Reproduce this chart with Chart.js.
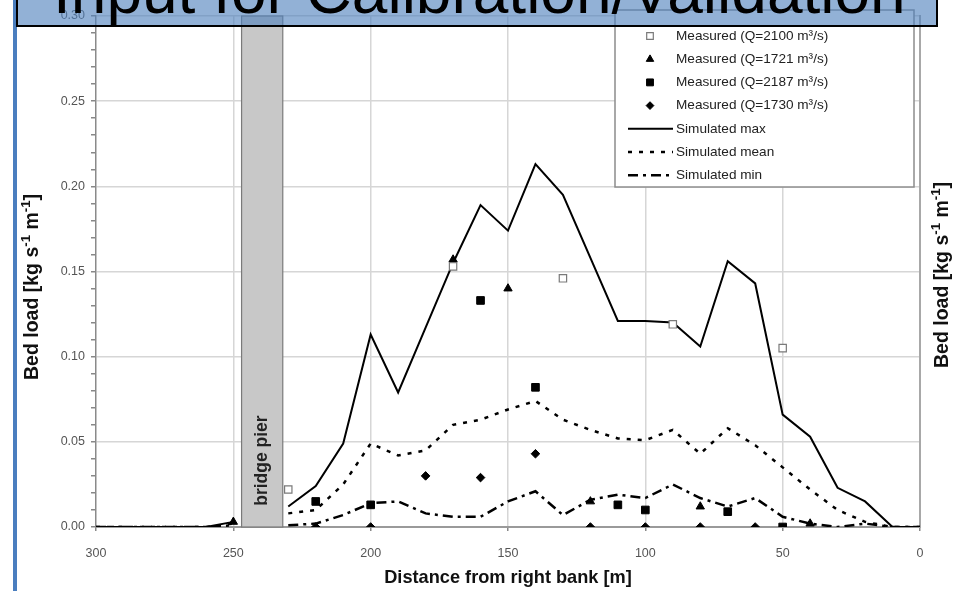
<!DOCTYPE html>
<html>
<head>
<meta charset="utf-8">
<script src="https://cdn.jsdelivr.net/npm/chart.js@4.4.1/dist/chart.umd.min.js"></script>
<style>
  html, body { margin: 0; padding: 0; background: #fff; }
  #wrap { position: relative; width: 963px; height: 591px; }
</style>
</head>
<body>
<div id="wrap"><canvas id="bedload-chart" width="963" height="591"></canvas></div>
<script>
// simulated profiles, every 10 m from the right bank (null = bridge pier)
const distances = [300, 290, 280, 270, 260, 250, 240, 230, 220, 210, 200, 190, 180, 170, 160, 150, 140, 130, 120, 110, 100, 90, 80, 70, 60, 50, 40, 30, 20, 10, 0];
const simMax  = [0, 0, 0, 0, 0, 0.003, null, 0.012, 0.024, 0.049, 0.113, 0.079, 0.117, 0.155, 0.189, 0.174, 0.213, 0.195, 0.158, 0.121, 0.121, 0.120, 0.106, 0.156, 0.143, 0.066, 0.053, 0.023, 0.015, 0, 0];
const simMean = [0, 0, 0, 0, 0, 0.002, null, 0.008, 0.010, 0.025, 0.049, 0.042, 0.045, 0.060, 0.063, 0.069, 0.074, 0.063, 0.057, 0.052, 0.051, 0.057, 0.043, 0.058, 0.048, 0.035, 0.022, 0.010, 0.003, 0, 0];
const simMin  = [0, 0, 0, 0, 0, 0.001, null, 0.001, 0.002, 0.007, 0.014, 0.015, 0.008, 0.006, 0.006, 0.015, 0.021, 0.007, 0.016, 0.019, 0.017, 0.025, 0.017, 0.012, 0.017, 0.006, 0.002, 0.000, 0.002, 0, 0];

// measured samples
const q2100X = [230, 170, 130, 90, 50];
const q2100Y = [0.022, 0.153, 0.146, 0.119, 0.105];
const q1721X = [250, 170, 150, 120, 80, 40];
const q1721Y = [0.003, 0.157, 0.140, 0.015, 0.012, 0.002];
const q2187X = [220, 200, 160, 140, 110, 100, 70, 50];
const q2187Y = [0.015, 0.013, 0.133, 0.082, 0.013, 0.010, 0.009, 0.000];
const q1730X = [220, 200, 180, 160, 140, 120, 100, 80, 60];
const q1730Y = [0, 0, 0.030, 0.029, 0.043, 0, 0, 0, 0];

const pierFrom = 247;
const pierTo = 232;
const xTicks = [300, 250, 200, 150, 100, 50, 0];
const yTicks = [0.00, 0.05, 0.10, 0.15, 0.20, 0.25, 0.30];

const slideTitle = 'Input for Calibration/Validation';
const FONT = "'Liberation Sans', Arial, sans-serif";

const lineData = ys => distances.map((d, i) => ({ x: d, y: ys[i] }));
const pointData = (xs, ys) => xs.map((d, i) => ({ x: d, y: ys[i] }));

function isMajorY(v) {
    return Math.abs(v * 100 - Math.round(v * 20) * 5) < 1e-6;
}

// superscript text helper: parts = [[text, isSup], ...]
function drawRichText(ctx, parts, cx, cy, size, rotate) {
    ctx.save();
    ctx.translate(cx, cy);
    if (rotate) ctx.rotate(-Math.PI / 2);
    ctx.textBaseline = 'middle';
    ctx.textAlign = 'left';
    let w = 0;
    parts.forEach(([t, sup]) => {
        ctx.font = 'bold ' + (sup ? size * 0.68 : size) + 'px ' + FONT;
        w += ctx.measureText(t).width;
    });
    let x = -w / 2;
    parts.forEach(([t, sup]) => {
        ctx.font = 'bold ' + (sup ? size * 0.68 : size) + 'px ' + FONT;
        ctx.fillText(t, x, sup ? -size * 0.36 : 0);
        x += ctx.measureText(t).width;
    });
    ctx.restore();
}

const yTitle = [['Bed load [kg s', false], ['-1', true], [' m', false], ['-1', true], [']', false]];

const background = {
    id: 'background',
    beforeDraw(chart) {
        const ctx = chart.ctx;
        ctx.save();
        ctx.fillStyle = '#fff';
        ctx.fillRect(0, 0, chart.width, chart.height);
        ctx.restore();
    }
};

const pierBox = {
    id: 'pierBox',
    beforeDatasetsDraw(chart) {
        const { ctx, chartArea } = chart;
        const xs = chart.scales.x;
        const ys = chart.scales.y;
        const x1 = xs.getPixelForValue(pierFrom);
        const x2 = xs.getPixelForValue(pierTo);
        ctx.save();
        ctx.fillStyle = '#c8c8c8';
        ctx.strokeStyle = '#7a7a7a';
        ctx.lineWidth = 1.2;
        ctx.fillRect(x1, chartArea.top, x2 - x1, chartArea.bottom - chartArea.top);
        ctx.strokeRect(x1, chartArea.top, x2 - x1, chartArea.bottom - chartArea.top);
        ctx.translate((x1 + x2) / 2, ys.getPixelForValue(0.039));
        ctx.rotate(-Math.PI / 2);
        ctx.fillStyle = '#222';
        ctx.font = 'bold 17.5px ' + FONT;
        ctx.textAlign = 'center';
        ctx.textBaseline = 'middle';
        ctx.fillText('bridge pier', 0, 0);
        ctx.restore();
    }
};

const boxLegend = {
    id: 'boxLegend',
    afterDatasetsDraw(chart) {
        const ctx = chart.ctx;
        const left = 615, right = 914, top = 10, bottom = 187;
        ctx.save();
        ctx.fillStyle = '#fff';
        ctx.fillRect(left, top, right - left, bottom - top);
        ctx.strokeStyle = '#8c8c8c';
        ctx.lineWidth = 1.5;
        ctx.strokeRect(left, top, right - left, bottom - top);
        chart.data.datasets.forEach((ds, i) => {
            const y = 36 + i * 23.2;
            if (ds.showLine === false) {
                ctx.fillStyle = ds.backgroundColor;
                ctx.strokeStyle = ds.borderColor;
                ctx.lineWidth = ds.borderWidth || 1;
                ctx.setLineDash([]);
                Chart.helpers.drawPoint(ctx, {
                    pointStyle: ds.pointStyle, radius: ds.pointRadius * 0.9,
                    rotation: 0, borderWidth: ds.borderWidth || 1
                }, 650, y);
            } else {
                ctx.strokeStyle = ds.borderColor;
                ctx.lineWidth = ds.borderWidth;
                ctx.setLineDash(ds.borderDash || []);
                ctx.beginPath();
                ctx.moveTo(628, y);
                ctx.lineTo(673, y);
                ctx.stroke();
                ctx.setLineDash([]);
            }
            ctx.fillStyle = '#222';
            ctx.font = '13.6px ' + FONT;
            ctx.textBaseline = 'middle';
            ctx.textAlign = 'left';
            ctx.fillText(ds.label, 676, y);
        });
        ctx.restore();
    }
};

const slideDecor = {
    id: 'slideDecor',
    afterDraw(chart) {
        const ctx = chart.ctx;
        const { chartArea } = chart;
        ctx.save();
        ctx.fillStyle = '#111';
        drawRichText(ctx, yTitle, 33, 287, 19.5, true);
        drawRichText(ctx, yTitle, 943, 275, 19.5, true);
        ctx.font = 'bold 18.2px ' + FONT;
        ctx.textAlign = 'center';
        ctx.textBaseline = 'middle';
        ctx.fillText('Distance from right bank [m]', (chartArea.left + chartArea.right) / 2, 578);

        // slide side rule
        ctx.fillStyle = '#4a7ebf';
        ctx.fillRect(13, 0, 4, chart.height);

        // slide title banner
        ctx.fillStyle = 'rgba(79,129,189,0.62)';
        ctx.fillRect(17, -5, 920, 31);
        ctx.strokeStyle = '#000';
        ctx.lineWidth = 2;
        ctx.strokeRect(17, -5, 920, 31);
        ctx.beginPath();
        ctx.rect(17, -5, 920, 31);
        ctx.clip();
        ctx.fillStyle = '#000';
        ctx.font = '64px ' + FONT;
        ctx.textAlign = 'left';
        ctx.textBaseline = 'alphabetic';
        ctx.fillText(slideTitle, 53, 13);
        ctx.restore();
    }
};

new Chart(document.getElementById('bedload-chart'), {
    type: 'line',
    data: {
        datasets: [{
            label: 'Measured (Q=2100 m³/s)',
            data: pointData(q2100X, q2100Y),
            showLine: false,
            pointStyle: 'rect',
            pointRadius: 5.2,
            backgroundColor: '#fff',
            borderColor: '#7a7a7a',
            borderWidth: 1.2,
        }, {
            label: 'Measured (Q=1721 m³/s)',
            data: pointData(q1721X, q1721Y),
            showLine: false,
            pointStyle: 'triangle',
            pointRadius: 4.8,
            backgroundColor: '#000',
            borderColor: '#000',
            borderWidth: 1,
        }, {
            label: 'Measured (Q=2187 m³/s)',
            data: pointData(q2187X, q2187Y),
            showLine: false,
            pointStyle: 'rect',
            pointRadius: 5.4,
            backgroundColor: '#000',
            borderColor: '#000',
            borderWidth: 1,
        }, {
            label: 'Measured (Q=1730 m³/s)',
            data: pointData(q1730X, q1730Y),
            showLine: false,
            pointStyle: 'rectRot',
            pointRadius: 4.3,
            backgroundColor: '#000',
            borderColor: '#000',
            borderWidth: 1,
        }, {
            label: 'Simulated max',
            data: lineData(simMax),
            borderColor: '#000',
            borderWidth: 2,
            pointRadius: 0,
            spanGaps: false,
        }, {
            label: 'Simulated mean',
            data: lineData(simMean),
            borderColor: '#000',
            borderWidth: 2.5,
            borderDash: [4, 7],
            pointRadius: 0,
            spanGaps: false,
        }, {
            label: 'Simulated min',
            data: lineData(simMin),
            borderColor: '#000',
            borderWidth: 2.5,
            borderDash: [10, 5, 3, 5],
            pointRadius: 0,
            spanGaps: false,
        }],
    },
    options: {
        responsive: false,
        animation: false,
        events: [],
        layout: { padding: { top: 16 } },
        elements: { line: { tension: 0 } },
        plugins: {
            legend: { display: false },
            tooltip: { enabled: false },
        },
        scales: {
            x: {
                type: 'linear',
                reverse: true,
                min: xTicks[xTicks.length - 1],
                max: xTicks[0],
                afterBuildTicks: s => { s.ticks = xTicks.map(v => ({ value: v })); },
                afterFit: s => { s.height = 64; },
                ticks: {
                    color: '#555',
                    font: { family: FONT, size: 12.5 },
                    padding: 15,
                    maxRotation: 0,
                },
                grid: {
                    color: c => (c.tick && c.tick.value > 0 && c.tick.value < 300) ? '#d6d6d6' : 'rgba(0,0,0,0)',
                    lineWidth: 1.5,
                    tickColor: '#888',
                    tickLength: 4,
                },
                border: { color: '#9a9a9a', width: 2 },
            },
            y: {
                position: 'left',
                min: yTicks[0],
                max: yTicks[yTicks.length - 1],
                ticks: {
                    stepSize: 0.01,
                    color: '#555',
                    font: { family: FONT, size: 12.5 },
                    padding: 6,
                    autoSkip: false,
                    callback: v => isMajorY(v) ? v.toFixed(2) : '',
                },
                afterFit: s => { s.width = 96; },
                grid: {
                    color: c => (c.tick && c.tick.value > 0 && isMajorY(c.tick.value)) ? '#d6d6d6' : 'rgba(0,0,0,0)',
                    lineWidth: 1.5,
                    tickColor: '#888',
                    tickLength: 5,
                },
                border: { color: '#8a8a8a', width: 1.5 },
            },
            y2: {
                position: 'right',
                min: yTicks[0],
                max: yTicks[yTicks.length - 1],
                ticks: { display: false },
                grid: { drawOnChartArea: false, drawTicks: false },
                afterFit: s => { s.width = 43; },
                border: { color: '#a8a8a8', width: 2 },
            },
        },
    },
    plugins: [background, pierBox, boxLegend, slideDecor],
});
</script>
</body>
</html>
